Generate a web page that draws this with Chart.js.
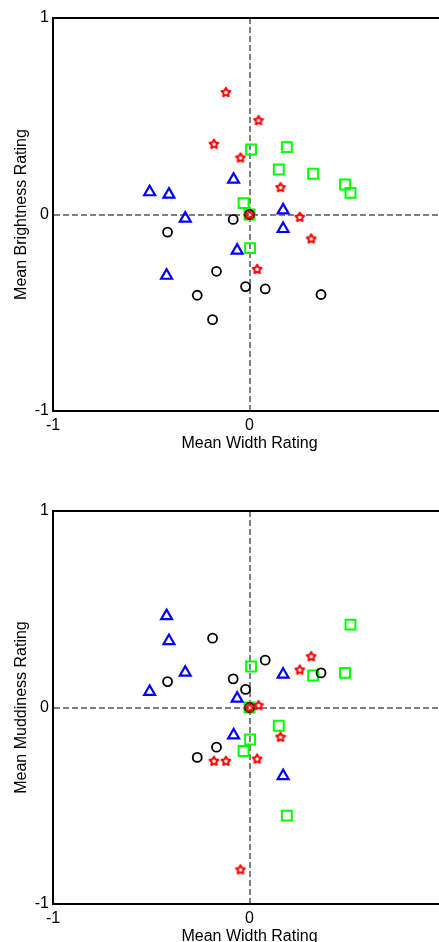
<!DOCTYPE html>
<html>
<head>
<meta charset="utf-8">
<script src="https://cdn.jsdelivr.net/npm/chart.js@4/dist/chart.umd.min.js"></script>
<style>
  html, body { margin:0; padding:0; background:#fff; overflow:hidden; width:439px; height:942px; }
  .box { position:absolute; left:0; width:470px; height:460px; }
  #top { top:0; }
  #bot { top:493px; }
</style>
</head>
<body>
<div class="box" id="top"><canvas id="c1"></canvas></div>
<div class="box" id="bot"><canvas id="c2"></canvas></div>
<script>
// mean width rating per marker group (shared by both plots)
const triWidth  = [-0.508, -0.41, -0.327, -0.081, 0.171, 0.171, -0.063, -0.422];
const circWidth = [0, -0.083, -0.417, -0.168, -0.266, -0.02, 0.08, 0.364, -0.188];
const sqWidth   = [0.008, 0.19, 0.149, 0.324, 0.486, 0.514, -0.03, 0.003, 0];
const starWidth = [-0.12, 0.046, -0.181, -0.046, 0.158, 0.256, 0.314, 0.039, 0];

// mean brightness rating (top plot)
const triBright  = [0.114, 0.102, -0.02, 0.178, 0.022, -0.073, -0.183, -0.311];
const circBright = [0, -0.025, -0.09, -0.289, -0.411, -0.367, -0.379, -0.407, -0.535];
const sqBright   = [0.331, 0.343, 0.229, 0.207, 0.153, 0.11, 0.058, -0.171, 0];
const starBright = [0.623, 0.48, 0.36, 0.29, 0.139, -0.012, -0.122, -0.277, 0];

// mean muddiness rating (bottom plot)
const triMuddy  = [0.08, 0.339, 0.178, -0.141, 0.168, -0.348, 0.046, 0.466];
const circMuddy = [0, 0.146, 0.132, -0.202, -0.254, 0.092, 0.241, 0.176, 0.353];
const sqMuddy   = [0.209, -0.55, -0.093, 0.163, 0.176, 0.422, -0.221, -0.163, 0];
const starMuddy = [-0.271, 0.012, -0.271, -0.824, -0.149, 0.193, 0.261, -0.26, 0];

const axisTicks = [-1, 0, 1];
const xTitle = 'Mean Width Rating';
const FONT = '"Liberation Sans", Arial, sans-serif';

// pentagram marker (matlab 'p')
const starImg = (() => {
  const c = document.createElement('canvas');
  c.width = 12; c.height = 12;
  const g = c.getContext('2d');
  g.strokeStyle = '#ff0000'; g.lineWidth = 2; g.lineJoin = 'round';
  g.beginPath();
  for (let i = 0; i < 10; i++) {
    const r = i % 2 === 0 ? 4.6 : 2.4;
    const a = -Math.PI/2 + i*Math.PI/5;
    const px = 6 + r*Math.cos(a), py = 6.4 + r*Math.sin(a);
    i === 0 ? g.moveTo(px, py) : g.lineTo(px, py);
  }
  g.closePath(); g.stroke();
  return c;
})();

const pts = (xs, ys) => xs.map((x, i) => ({x, y: ys[i]}));

const framePlugin = {
  id: 'frame',
  beforeDatasetsDraw(chart) {
    const {ctx, chartArea: a} = chart;
    ctx.save();
    ctx.strokeStyle = '#000'; ctx.lineWidth = 2;
    ctx.beginPath();
    ctx.moveTo(a.left - 1, a.top); ctx.lineTo(a.right, a.top); ctx.lineTo(a.right, a.bottom);
    ctx.stroke();
    ctx.restore();
  }
};

const makeChart = (id, yTitle, triY, circY, sqY, starY) => {
  const zeroGrid = c => c.tick && c.tick.value === 0 ? '#808080' : 'rgba(0,0,0,0)';
  return new Chart(document.getElementById(id), {
    type: 'scatter',
    data: { datasets: [
      { data: pts(sqWidth, sqY), pointStyle:'rect', pointRadius:7, pointBorderWidth:2,
        borderColor:'#00ff00', backgroundColor:'rgba(0,0,0,0)', order:4 },
      { data: pts(triWidth, triY), pointStyle:'triangle', pointRadius:6.3, pointBorderWidth:2.2,
        borderColor:'#0000ff', backgroundColor:'rgba(0,0,0,0)', order:3 },
      { data: pts(circWidth, circY), pointStyle:'circle', pointRadius:4.5, pointBorderWidth:1.8,
        borderColor:'#000', backgroundColor:'rgba(0,0,0,0)', order:2 },
      { data: pts(starWidth, starY), pointStyle:starImg, pointRadius:6, order:1 }
    ]},
    options: {
      responsive:true, maintainAspectRatio:false, animation:false,
      layout:{ padding:{ top:18, right:24, left:0, bottom:0 } },
      plugins:{ legend:{display:false}, tooltip:{enabled:false} },
      scales: {
        x: {
          min:-1, max:1,
          afterFit: s => { s.height = 49; },
          afterBuildTicks: s => { s.ticks = axisTicks.map(v => ({value:v})); },
          ticks:{ color:'#000', padding:5, maxRotation:0, font:{family:FONT, size:16} },
          grid:{ drawTicks:false, color:zeroGrid, lineWidth:2 },
          border:{ display:true, color:'#000', width:2, dash:[6,3] },
          title:{ display:true, text:xTitle, color:'#000', font:{family:FONT, size:16}, padding:{top:0, bottom:7} }
        },
        y: {
          min:-1, max:1,
          afterFit: s => { s.width = 53; },
          afterBuildTicks: s => { s.ticks = axisTicks.map(v => ({value:v})); },
          ticks:{ color:'#000', padding:4, font:{family:FONT, size:16} },
          grid:{ drawTicks:false, color:zeroGrid, lineWidth:2 },
          border:{ display:true, color:'#000', width:2, dash:[6,3] },
          title:{ display:true, text:yTitle, color:'#000', font:{family:FONT, size:16}, padding:{top:12, bottom:0} }
        }
      }
    },
    plugins:[framePlugin]
  });
};

makeChart('c1', 'Mean Brightness Rating', triBright, circBright, sqBright, starBright);
makeChart('c2', 'Mean Muddiness Rating', triMuddy, circMuddy, sqMuddy, starMuddy);
</script>
</body>
</html>
